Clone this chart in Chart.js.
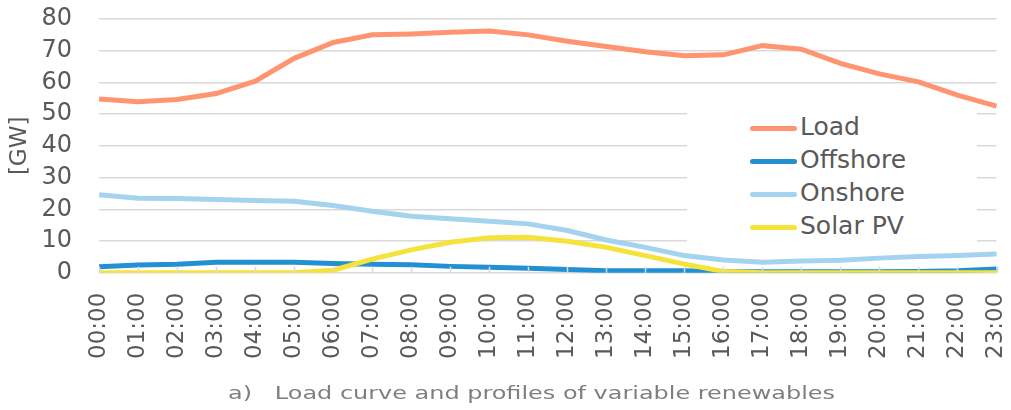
<!DOCTYPE html>
<html>
<head>
<meta charset="utf-8">
<script src="https://cdn.jsdelivr.net/npm/chart.js@4.4.1/dist/chart.umd.min.js"></script>
<style>
  html, body { margin: 0; padding: 0; background: #fff; }
  #wrap { position: relative; width: 1011px; height: 410px; }
  #legend {
    position: absolute; left: 687px; top: 106px; width: 290px; height: 142px;
    background: #fff; font-family: "DejaVu Sans", Verdana, sans-serif; font-size: 25px; color: #595959;
  }
  #legend .item { position: absolute; left: 63px; height: 33px; line-height: 33px; white-space: nowrap; }
  #legend .swatch { display: inline-block; width: 47px; height: 5px; border-radius: 3px; vertical-align: middle; margin-right: 3px; }
  #caption {
    position: absolute; left: 228px; top: 382px; font-family: "DejaVu Sans", Verdana, sans-serif;
    font-size: 18px; color: #7f7f7f; white-space: pre;
    transform: scaleX(1.33); transform-origin: left center;
  }
</style>
</head>
<body>
<div id="wrap">
  <canvas id="chart" width="1011" height="410"></canvas>
  <div id="legend"></div>
  <div id="caption">a)   Load curve and profiles of variable renewables</div>
</div>
<script>
// hours of the day
const hours = ['00:00', '01:00', '02:00', '03:00', '04:00', '05:00', '06:00', '07:00', '08:00', '09:00', '10:00', '11:00',
               '12:00', '13:00', '14:00', '15:00', '16:00', '17:00', '18:00', '19:00', '20:00', '21:00', '22:00', '23:00'];

// GW values
const load     = [54.8, 53.9, 54.6, 56.5, 60.4, 67.6, 72.6, 75.0, 75.3, 75.8, 76.2, 75.0,
                  73.0, 71.3, 69.7, 68.4, 68.7, 71.6, 70.5, 66.0, 62.7, 60.2, 56.0, 52.5];
const offshore = [1.9, 2.4, 2.7, 3.3, 3.3, 3.3, 2.9, 2.7, 2.5, 2.0, 1.7, 1.4,
                  1.0, 0.6, 0.6, 0.6, 0.3, 0.3, 0.3, 0.3, 0.3, 0.4, 0.6, 1.2];
const onshore  = [24.6, 23.5, 23.4, 23.1, 22.8, 22.5, 21.2, 19.4, 17.8, 17.0, 16.2, 15.4,
                  13.3, 10.3, 8.0, 5.4, 4.0, 3.3, 3.7, 3.9, 4.6, 5.1, 5.4, 5.9];
const solar    = [0, 0, 0, 0, 0, 0, 0.8, 4.3, 7.2, 9.6, 11.0, 11.2,
                  9.9, 8.0, 5.4, 2.7, 0.4, 0, 0, 0, 0, 0, 0, 0];

const seriesNames  = ['Load', 'Offshore', 'Onshore', 'Solar PV'];
const seriesColors = ['#FF9470', '#2290D3', '#A3D3EF', '#F5E33C'];
const yTicks = [0, 10, 20, 30, 40, 50, 60, 70, 80];

const textColor = '#595959';
const gridColor = '#D9D9D9';
const font = 'DejaVu Sans';

// little tick marks sitting on the category axis, pointing up
const axisTicks = {
    id: 'axisTicks',
    afterDatasetsDraw(chart) {
        const x = chart.scales.x, y = chart.scales.y;
        const ctx = chart.ctx;
        const base = y.getPixelForValue(0);
        ctx.save();
        ctx.strokeStyle = gridColor;
        ctx.lineWidth = 1.5;
        hours.forEach((h, i) => {
            const px = Math.round(x.getPixelForValue(i)) + 0.5;
            ctx.beginPath();
            ctx.moveTo(px, base);
            ctx.lineTo(px, base - 6);
            ctx.stroke();
        });
        ctx.restore();
    }
};

const allSeries = [load, offshore, onshore, solar];
const datasets = allSeries.map((values, i) => ({
    label: seriesNames[i],
    data: values,
    borderColor: seriesColors[i],
    backgroundColor: seriesColors[i],
    borderWidth: 5,
    pointRadius: 0,
    tension: 0,
    fill: false
}));
// draw in the same stacking as the original: yellow on top of blue, etc.
datasets[0].order = 4;
datasets[2].order = 3;
datasets[1].order = 2;
datasets[3].order = 1;

const ctx = document.getElementById('chart').getContext('2d');
new Chart(ctx, {
    type: 'line',
    data: { labels: hours, datasets: datasets },
    options: {
        responsive: false,
        animation: false,
        layout: { padding: { left: 6, right: 14, top: 19, bottom: 48 } },
        plugins: {
            legend: { display: false },
            tooltip: { enabled: false }
        },
        scales: {
            x: {
                offset: false,
                // invisible tick marks only to push the labels down
                grid: { display: true, drawOnChartArea: false, drawTicks: true, tickLength: 17, tickColor: 'rgba(0,0,0,0)' },
                border: { display: false },
                ticks: {
                    color: textColor,
                    font: { family: font, size: 23, lineHeight: 0.5 },
                    maxRotation: 90,
                    minRotation: 90,
                    autoSkip: false,
                    padding: 3
                }
            },
            y: {
                min: 0,
                max: 80,
                afterBuildTicks: (axis) => { axis.ticks = yTicks.map(v => ({ value: v })); },
                grid: { color: gridColor, lineWidth: 1.5, drawTicks: true, tickLength: 24, tickColor: 'rgba(0,0,0,0)' },
                border: { display: false },
                title: {
                    display: true,
                    text: '[GW]',
                    color: textColor,
                    font: { family: font, size: 23 },
                    padding: { top: 0, bottom: 5 }
                },
                ticks: {
                    color: textColor,
                    font: { family: font, size: 24 },
                    autoSkip: false,
                    padding: 3
                }
            }
        }
    },
    plugins: [axisTicks]
});

// legend block laid over the plot area, white behind it
const legendBox = document.getElementById('legend');
seriesNames.forEach((name, i) => {
    const item = document.createElement('div');
    item.className = 'item';
    item.style.top = (4 + i * 33) + 'px';
    item.innerHTML = '<span class="swatch" style="background:' + seriesColors[i] + '"></span>' + name;
    legendBox.appendChild(item);
});
</script>
</body>
</html>
